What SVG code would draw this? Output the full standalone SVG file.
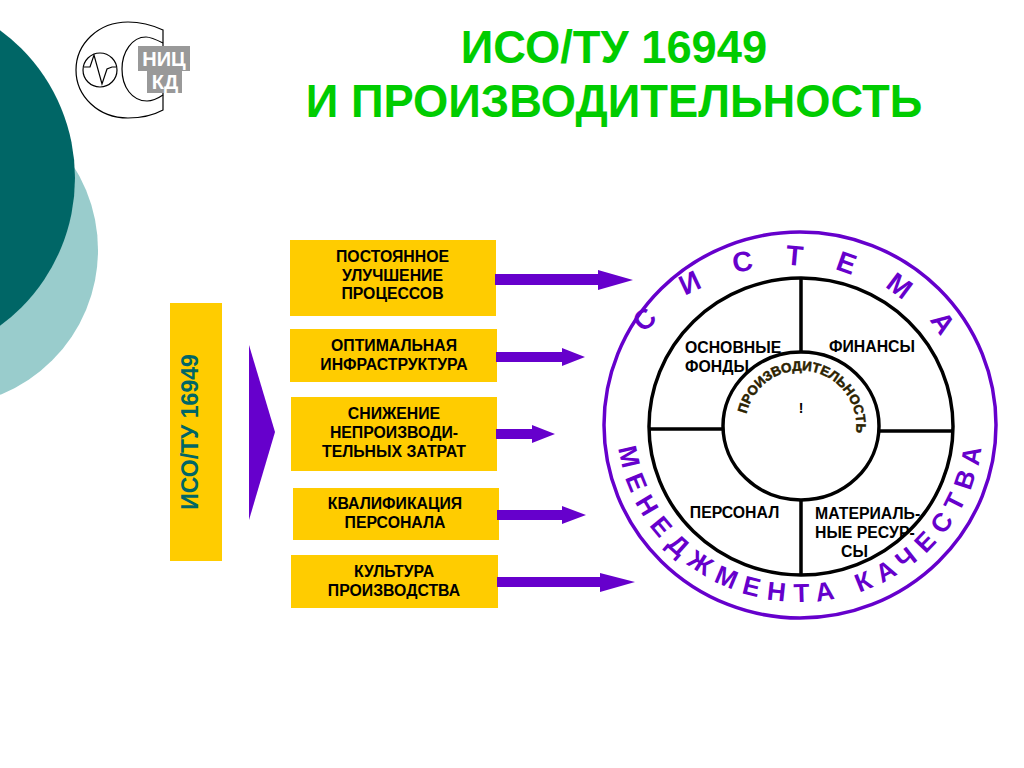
<svg xmlns="http://www.w3.org/2000/svg" width="1024" height="768" viewBox="0 0 1024 768">
<style>
text{font-family:"Liberation Sans",Arial,sans-serif;font-weight:bold}
.t{font-size:15.800px;text-anchor:middle;fill:#000}
.s{font-size:15.800px;fill:#000}
.b{fill:#FFCC00}
.a{fill:#6600CC}
.title{font-size:45.300px;fill:#00CC00;text-anchor:middle}
.ring{fill:#6600CC}
.l{fill:none;stroke:#000;stroke-width:3.5}
.lg{fill:none;stroke:#000;stroke-width:1.2}
</style>
<defs>
<path id="top" d="M612,428 A180,162 0 0 1 972,428"/>
<path id="bot" d="M617,425 A183,177 0 0 0 983,425"/>
<path id="mid" d="M746.500,414 A55,55 0 0 1 855,438"/>
</defs>
<rect width="1024" height="768" fill="#fff"/>
<g id="background">
<circle cx="-58" cy="250" r="156" fill="#99CCCC"/>
<circle cx="-108" cy="178" r="183" fill="#006666"/>
</g>
<g id="logo">
<path class="lg" d="M163,30 C150,24 140,22 128,22 C98,22 76,44 76,70 C76,96 98,118 128,118 C140,118 152,116 163,110 Z"/>
<path class="lg" d="M163,43 C155,39 150,37 146,37 C132,37 122,52 122,69 C122,87 132,101 147,101 C152,101 157,99 163,95"/>
<circle class="lg" cx="100" cy="70" r="17"/>
<path class="lg" d="M84,67 H90 L94,55 L102,84 L107,69 L112,67 H116"/>
<rect x="138" y="46" width="52" height="25" fill="#999"/>
<rect x="147" y="71" width="35" height="22" fill="#999"/>
<text x="164" y="66" font-size="20" fill="#fff" text-anchor="middle">НИЦ</text>
<text x="165" y="89" font-size="20" fill="#fff" text-anchor="middle">КД</text>
</g>
<g id="title">
<text class="title" x="614" y="63">ИСО/ТУ 16949</text>
<text class="title" x="614" y="117">И ПРОИЗВОДИТЕЛЬНОСТЬ</text>
</g>
<g id="iso">
<rect class="b" x="170" y="303" width="52" height="258"/>
<text transform="translate(196,432) rotate(-90)" font-size="23" fill="#006666" text-anchor="middle" y="1.500">ИСО/ТУ 16949</text>
</g>
<g id="box1"><rect class="b" x="290" y="240" width="206" height="76"/>
<text class="t" x="392.500" y="262.300">ПОСТОЯННОЕ</text><text class="t" x="392.500" y="280.700">УЛУЧШЕНИЕ</text><text class="t" x="392.500" y="299.300">ПРОЦЕССОВ</text></g>
<g id="box2"><rect class="b" x="290" y="329" width="207" height="53"/>
<text class="t" x="394" y="351">ОПТИМАЛЬНАЯ</text><text class="t" x="394" y="370">ИНФРАСТРУКТУРА</text></g>
<g id="box3"><rect class="b" x="291" y="397" width="206" height="74"/>
<text class="t" x="394" y="419">СНИЖЕНИЕ</text><text class="t" x="394" y="437.500">НЕПРОИЗВОДИ-</text><text class="t" x="394" y="456.500">ТЕЛЬНЫХ ЗАТРАТ</text></g>
<g id="box4"><rect class="b" x="293" y="488" width="206" height="52"/>
<text class="t" x="395" y="509">КВАЛИФИКАЦИЯ</text><text class="t" x="395" y="528">ПЕРСОНАЛА</text></g>
<g id="box5"><rect class="b" x="291" y="555" width="207" height="53"/>
<text class="t" x="394" y="576.500">КУЛЬТУРА</text><text class="t" x="394" y="595.500">ПРОИЗВОДСТВА</text></g>
<g id="connectors">
<polygon class="a" points="249,345 275,432 249,520"/>
<polygon class="a" points="495,274 598,274 598,270 633,280 598,290 598,285 495,285"/>
<polygon class="a" points="496,352 562,352 562,348 585,357 562,366 562,362 496,362"/>
<polygon class="a" points="496,429 532,429 532,425 555,434 532,443 532,439 496,439"/>
<polygon class="a" points="497,510 562,510 562,506 586,515 562,524 562,520 497,520"/>
<polygon class="a" points="497,577 600,577 600,573 635,582 600,592 600,587 497,587"/>
</g>
<g id="system">
<ellipse cx="800" cy="425" rx="196" ry="193" fill="#fff" stroke="#6600CC" stroke-width="3.5"/>
<ellipse class="l" cx="801" cy="426.500" rx="152" ry="148.500"/>
<ellipse class="l" cx="801" cy="426" rx="78" ry="74"/>
<path class="l" d="M801,278V352M801,500V575M649,429H723M879,431H953"/>
<text class="ring" font-size="28" text-anchor="middle"><textPath href="#top" startOffset="286" letter-spacing="32"><tspan dx="0 3 2 0 0 2 0">СИСТЕМА</tspan></textPath></text>
<text class="ring" font-size="26"><textPath href="#bot" startOffset="23" letter-spacing="8.700">МЕНЕДЖМЕНТА КАЧЕСТВА</textPath></text>
</g>
<g id="center">
<text font-size="13.400" fill="#2b2200" stroke="#2b2200" stroke-width=".5"><textPath href="#mid">ПРОИЗВОДИТЕЛЬНОСТЬ</textPath></text>
<text x="801" y="412.500" font-size="14" text-anchor="middle">!</text>
</g>
<g id="sectors">
<text class="s" x="685" y="352.700">ОСНОВНЫЕ</text>
<text class="s" x="685" y="371.700">ФОНДЫ</text>
<text class="t" x="872" y="351.700">ФИНАНСЫ</text>
<text class="t" x="734.500" y="517.700">ПЕРСОНАЛ</text>
<text class="s" x="815" y="518.700">МАТЕРИАЛЬ-</text>
<text class="s" x="815" y="537.500">НЫЕ РЕСУР-</text>
<text class="s" x="841" y="556.700">СЫ</text>
</g>
</svg>
